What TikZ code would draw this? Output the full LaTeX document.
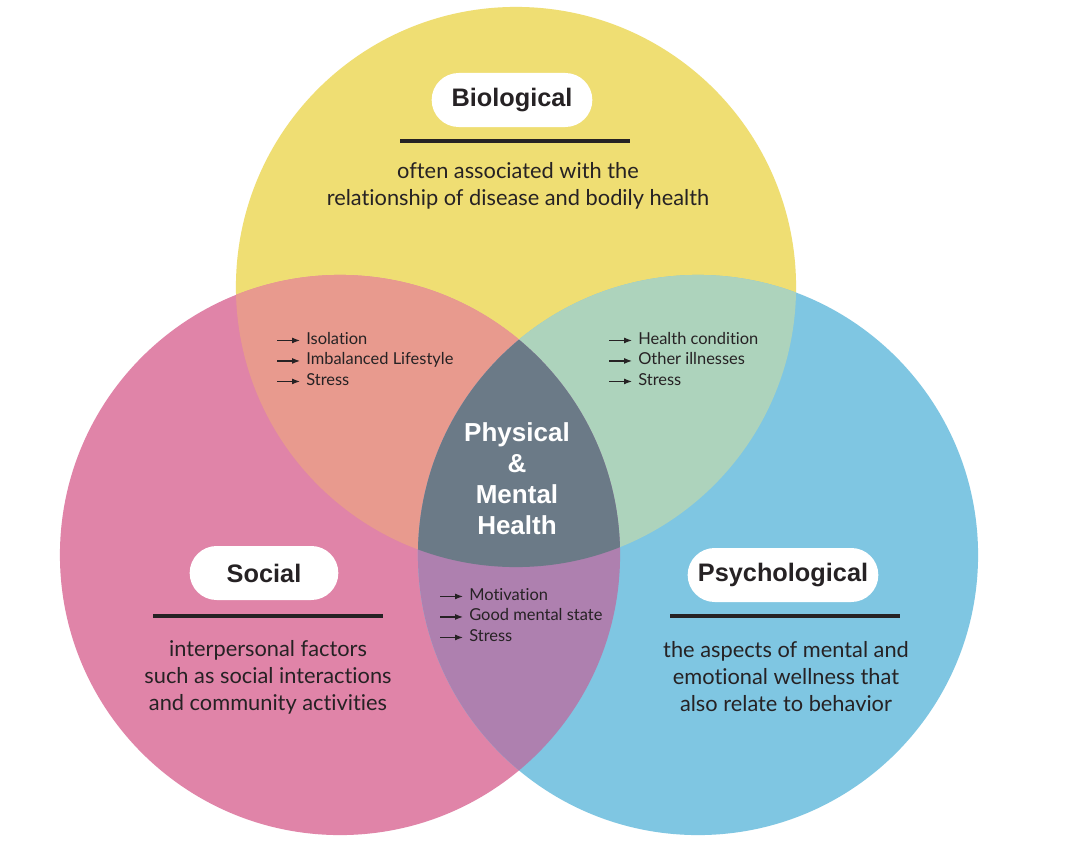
\documentclass[tikz,border=0pt]{standalone}
\usepackage{fontspec}
\setmainfont{Lato}[Ligatures=NoCommon]
\newfontfamily\headfont{Liberation Sans}
\usepackage{xcolor}
\usetikzlibrary{arrows.meta, positioning, shapes.misc}

\definecolor{bioyellow}{RGB}{239,222,115}
\definecolor{socpink}{RGB}{224,132,168}
\definecolor{psyblue}{RGB}{127,198,226}
\definecolor{biosoc}{RGB}{232,154,142}
\definecolor{biopsy}{RGB}{173,211,188}
\definecolor{socpsy}{RGB}{174,128,175}
\definecolor{coregray}{RGB}{107,122,135}
\definecolor{ink}{RGB}{38,34,36}

\begin{document}
\begin{tikzpicture}[
  x=0.025cm,
  y=-0.025cm,
  pill/.style={
    rounded rectangle,
    fill=white,
    minimum height=1.35cm,
    text=ink,
    font=\headfont\bfseries\fontsize{18}{20}\selectfont
  },
  rule/.style={
    line width=2.8pt,
    ink
  },
  desc/.style={
    align=center,
    text=ink,
    font=\fontsize{15.5}{19.2}\selectfont
  },
  item/.style={
    anchor=base west,
    inner sep=0pt,
    text=ink,
    font=\fontsize{11.7}{14}\selectfont
  },
  tip/.style={
    -{Latex[length=2mm, width=1.5mm]},
    line width=0.8pt,
    ink
  },
  core/.style={
    align=center,
    text=white,
    font=\headfont\bfseries\fontsize{18.5}{22}\selectfont
  }
]
\useasboundingbox (0,0) rectangle (1072,842);
\fill[white] (0,0) rectangle (1072,842);

% Circle centres
\coordinate (bio) at (516,287);
\coordinate (soc) at (340,555);
\coordinate (psy) at (698,555);

% Circles
\fill[bioyellow] (bio) circle (7cm);
\fill[socpink] (soc) circle (7cm);
\fill[psyblue] (psy) circle (7cm);

% Overlaps
\begin{scope}
  \clip (bio) circle (7cm);
  \fill[biosoc] (soc) circle (7cm);
  \fill[biopsy] (psy) circle (7cm);
\end{scope}
\begin{scope}
  \clip (soc) circle (7cm);
  \fill[socpsy] (psy) circle (7cm);
  \clip (psy) circle (7cm);
  \fill[coregray] (bio) circle (7cm);
\end{scope}

% Biological
\node[pill, minimum width=4.25cm] (biotitle) at (512,100) {Biological};
\draw[rule] (400,141) -- (630,141);
\node[desc] (biodesc) at (518,186) {often associated with the\\relationship of disease and bodily health};

% Social
\node[pill, minimum width=3.95cm] (soctitle) at (264,573) {Social};
\draw[rule] (153,616) -- (383,616);
\node[desc] (socdesc) at (268,677) {interpersonal factors\\such as social interactions\\and community activities};

% Psychological
\node[pill, minimum width=5cm] (psytitle) at (783,575) {Psychological};
\draw[rule] (670,616) -- (900,616);
\node[desc] (psydesc) at (786,677) {the aspects of mental and\\emotional wellness that\\also relate to behavior};

% Centre
\node[core] (centre) at (517,479) {Physical\\\&\\Mental\\Health};

% Biological and Social
\node[item] (iso) at (306,344) {Isolation};
\node[item] (imb) at (306,364.5) {Imbalanced Lifestyle};
\node[item] (strbs) at (306,385) {Stress};
\draw[tip] (iso.mid west) ++(-29,0) -- ++(23,0);
\draw[tip] (imb.mid west) ++(-29,0) -- ++(23,0);
\draw[tip] (strbs.mid west) ++(-29,0) -- ++(23,0);

% Biological and Psychological
\node[item] (cond) at (638,344) {Health condition};
\node[item] (ill) at (638,364.5) {Other illnesses};
\node[item] (strbp) at (638,385) {Stress};
\draw[tip] (cond.mid west) ++(-29,0) -- ++(23,0);
\draw[tip] (ill.mid west) ++(-29,0) -- ++(23,0);
\draw[tip] (strbp.mid west) ++(-29,0) -- ++(23,0);

% Social and Psychological
\node[item] (mot) at (469,600) {Motivation};
\node[item] (good) at (469,620.5) {Good mental state};
\node[item] (strsp) at (469,641) {Stress};
\draw[tip] (mot.mid west) ++(-29,0) -- ++(23,0);
\draw[tip] (good.mid west) ++(-29,0) -- ++(23,0);
\draw[tip] (strsp.mid west) ++(-29,0) -- ++(23,0);

\end{tikzpicture}
\end{document}
